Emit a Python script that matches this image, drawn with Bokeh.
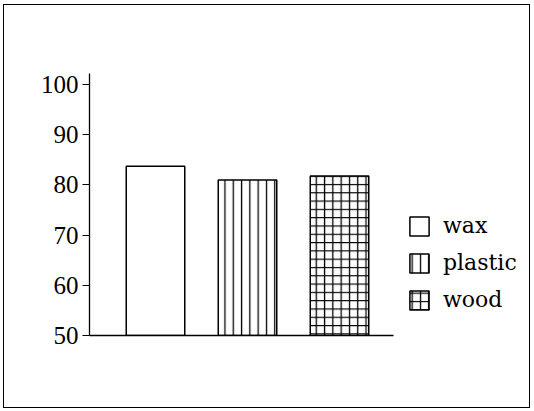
from bokeh.plotting import figure
from bokeh.models import Legend, LegendItem, FixedTicker, Range1d
from bokeh.embed import file_html
from bokeh.resources import INLINE

materials = ["wax", "plastic", "wood"]
positions = [1, 2, 3]
values = [83.7, 81.0, 81.8]
hatches = [" ", "|", "+"]
y_ticks = [50, 60, 70, 80, 90, 100]

p = figure(width=527, height=404, output_backend="svg", toolbar_location=None,
           x_range=Range1d(0.2826, 4.978), y_range=Range1d(50, 102.2),
           min_border_left=85, min_border_top=68, min_border_bottom=74,
           min_border_right=10)
p.styles = {"border": "1px solid black", "margin-left": "3px", "margin-top": "4px"}
p.outline_line_color = None
p.grid.visible = False
p.background_fill_color = "white"
p.border_fill_color = "white"

items = []
for m, x, v, h in zip(materials, positions, values, hatches):
    r = p.vbar(x=[x], top=[v], bottom=50, width=0.636,
               fill_color="white", line_color="black", line_width=1.5,
               hatch_pattern=h, hatch_scale=8.3, hatch_weight=1.3,
               hatch_color="black")
    items.append(LegendItem(label=m, renderers=[r]))

legend = Legend(items=items, location=(318, 23),
                label_text_font="DejaVu Serif", label_text_font_size="22px",
                label_text_color="black",
                glyph_width=24, glyph_height=24, label_standoff=12,
                spacing=12, padding=0, margin=0,
                border_line_color=None, background_fill_alpha=0)
p.add_layout(legend)

xa = p.xaxis[0]
xa.ticker = FixedTicker(ticks=[])
xa.bounds = (0.2826, 3.587)
xa.major_tick_line_color = None
xa.minor_tick_line_color = None
xa.major_label_text_font_size = "0px"
xa.axis_line_width = 1.3
xa.axis_line_color = "black"

ya = p.yaxis[0]
ya.ticker = FixedTicker(ticks=y_ticks)
ya.minor_tick_line_color = None
ya.major_tick_in = 0
ya.major_tick_out = 7
ya.major_tick_line_width = 1.2
ya.axis_line_width = 1.3
ya.axis_line_color = "black"
ya.major_tick_line_color = "black"
ya.major_label_text_font = "Liberation Serif"
ya.major_label_text_font_size = "25px"
ya.major_label_text_color = "black"
ya.major_label_standoff = 4

open("out.html", "w").write(file_html(p, INLINE))
